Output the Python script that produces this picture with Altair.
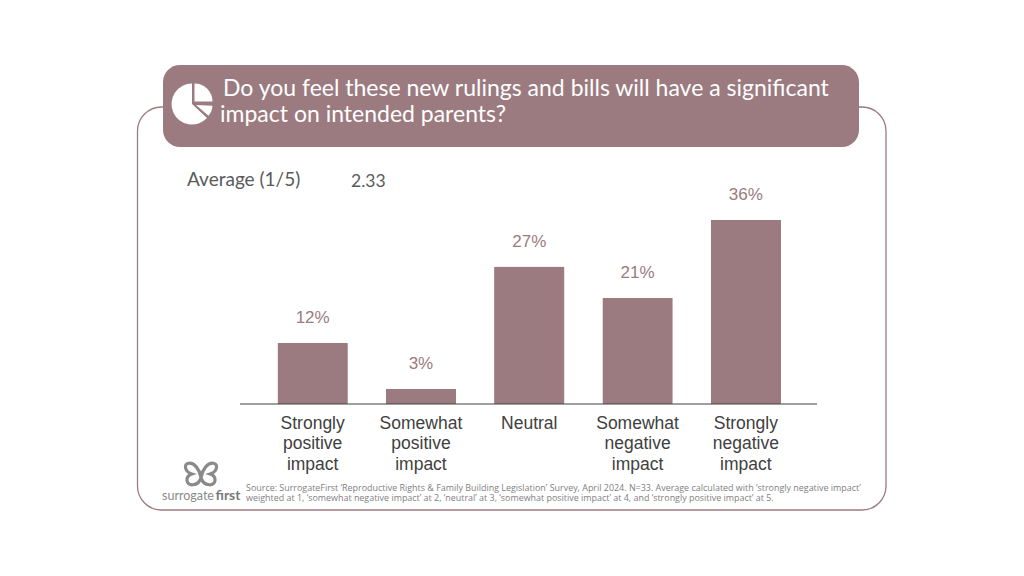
import altair as alt
import pandas as pd

categories = ["Strongly positive impact", "Somewhat positive impact", "Neutral",
              "Somewhat negative impact", "Strongly negative impact"]
values = [0.121, 0.030, 0.272, 0.21, 0.364]
title_1 = "Do you feel these new rulings and bills will have a significant"
title_2 = "impact on intended parents?"
avg_label = "Average (1/5)"
avg_value = "2.33"
source_1 = "Source: SurrogateFirst ‘Reproductive Rights & Family Building Legislation’ Survey, April 2024. N=33. Average calculated with ‘strongly negative impact’"
source_2 = "weighted at 1, ‘somewhat negative impact’ at 2, ‘neutral’ at 3, ‘somewhat positive impact’ at 4, and ‘strongly positive impact’ at 5."

MAUVE = "#9b7b80"
OFF = 8
one = pd.DataFrame({"a": [0]})
df = pd.DataFrame({"cat": categories, "v": values})

def px(v):
    return alt.value(v - OFF)

def text(s, x, y, size, color, font, align="left", weight="normal"):
    return alt.Chart(pd.DataFrame({"t": [s]})).mark_text(
        align=align, baseline="alphabetic", fontSize=size, color=color, font=font,
        fontWeight=weight
    ).encode(x=px(x), y=px(y), text="t:N")

def arc(cx, cy, r, t1, t2):
    return alt.Chart(one).mark_arc(radius=r, theta=t1, theta2=t2, color="white").encode(x=px(cx), y=px(cy))

frame = alt.Chart(one).mark_rect(fill="white", stroke=MAUVE, strokeWidth=1.3, cornerRadius=24).encode(
    x=px(137.5), x2=px(886), y=px(107), y2=px(510))
header = alt.Chart(one).mark_rect(fill=MAUVE, cornerRadius=17).encode(
    x=px(163), x2=px(859), y=px(65), y2=px(147))

xscale = alt.Scale(domain=categories, range=[250.5, 792], paddingInner=0.35, paddingOuter=0.175)
yscale = alt.Scale(domain=[0, 0.4], range=[396, 193.8])
lab_expr = "split(replace(replace(replace(datum.label,'Strongly ','Strongly|'),'Somewhat ','Somewhat|'),'ve impact','ve|impact'),'|')"

bars = alt.Chart(df).mark_bar(color=MAUVE, cornerRadius=1).encode(
    x=alt.X("cat:N", scale=xscale, sort=categories, title=None,
            axis=alt.Axis(domain=False, ticks=False, labelAngle=0, labelFontSize=17.5, labelColor="#404040",
                          labelFont="Liberation Sans", labelPadding=10, labelLineHeight=20.7, offset=-164,
                          labelExpr=lab_expr, labelLimit=200, grid=False, zindex=1)),
    y=alt.Y("v:Q", scale=yscale, axis=None))
labels = alt.Chart(df).mark_text(color=MAUVE, fontSize=17, font="Liberation Sans", dy=-20, baseline="alphabetic").encode(
    x=alt.X("cat:N", scale=xscale, sort=categories),
    y=alt.Y("v:Q", scale=yscale, axis=None),
    text=alt.Text("v:Q", format=".0%"))
baseline = alt.Chart(one).mark_rule(color="#404040", strokeWidth=1.2).encode(
    x=px(240), x2=px(817), y=px(404))

butterfly = ("M0,0.2 C-0.1,-0.3 -0.4,-0.7 -0.75,-0.65 C-1.05,-0.6 -1,-0.15 -0.55,0 "
             "C-1,0.15 -0.9,0.7 -0.5,0.65 C-0.2,0.62 -0.05,0.45 0,0.2 "
             "C0.05,0.45 0.2,0.62 0.5,0.65 C0.9,0.7 1,0.15 0.55,0 "
             "C1,-0.15 1.05,-0.6 0.75,-0.65 C0.4,-0.7 0.1,-0.3 0,0.2 Z")
logo = alt.Chart(one).mark_point(shape=butterfly, filled=False, stroke="#8a8a8a", strokeWidth=3.2, size=1100, opacity=1).encode(
    x=px(201), y=px(474))

chart = alt.layer(
    frame, header,
    arc(192, 104, 20.5, 2.32, 6.283),
    arc(194.5, 101.5, 18, 0, 1.5708),
    arc(196, 105, 16.5, 1.62, 2.28),
    text(title_1, 223, 96, 23, "white", "Lato"),
    text(title_2, 220, 122, 23, "white", "Lato"),
    text(avg_label, 187, 186, 19, "#5a5a5a", "Lato"),
    text(avg_value, 351, 187, 17.5, "#5a5a5a", "Lato"),
    bars, labels, baseline, logo,
    text("surrogate", 162, 500, 12.5, "#8a8a8a", "Lato"),
    text("first", 240.5, 500, 14, "#7a7a7a", "Lato", align="right", weight="bold"),
    text(source_1, 246, 491, 8.93, "#808080", "Open Sans"),
    text(source_2, 246, 500.5, 8.93, "#808080", "Open Sans"),
).properties(width=1008, height=560, padding=0, autosize=alt.AutoSizeParams(type="none")).configure_view(stroke=None)

chart.save("out.html", embed_options={"renderer": "svg", "actions": False})
